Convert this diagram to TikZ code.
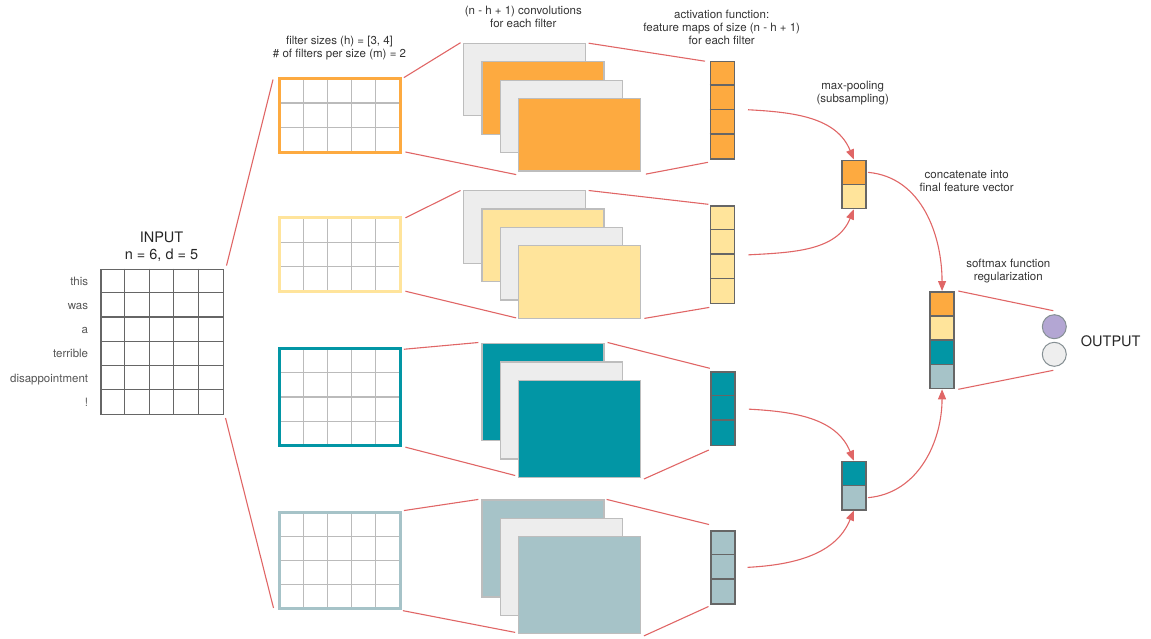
\documentclass[tikz,border=0pt]{standalone}
\usepackage{fontspec}
\setmainfont{TeX Gyre Heros}
\usetikzlibrary{arrows.meta,calc}

\definecolor{cOrange}{HTML}{FDAA40}
\definecolor{cYellow}{HTML}{FFE49B}
\definecolor{cTeal}{HTML}{0296A5}
\definecolor{cSlate}{HTML}{A6C3C8}
\definecolor{cSheet}{HTML}{EDEDED}
\definecolor{cSheetLine}{HTML}{BDBDBD}
\definecolor{cGrid}{HTML}{BBBBBB}
\definecolor{cDark}{HTML}{666666}
\definecolor{cRed}{HTML}{E06666}
\definecolor{cPurple}{HTML}{B3A6D3}
\definecolor{cCircle}{HTML}{EEEEEE}
\definecolor{cCircleLine}{HTML}{858F93}
\definecolor{cText}{HTML}{333333}
\definecolor{cWord}{HTML}{555555}

\begin{document}
\begin{tikzpicture}[x=1pt,y=-1pt,
  label/.style={font=\fontsize{11.5}{13}\selectfont, text=cText, align=center, inner sep=0},
  bigtext/.style={font=\fontsize{14.5}{17}\selectfont, text=black!85, align=center, inner sep=0},
  word/.style={font=\fontsize{11.5}{13}\selectfont, text=cWord, anchor=base east, inner sep=0},
  inbox/.style={draw=cDark, line width=1.2pt, fill=white, inner sep=0, anchor=north west,
                minimum width=122.5, minimum height=145.2},
  ingrid/.style={draw=cDark, line width=1.2pt},
  fbox/.style={inner sep=0, fill=white, minimum width=121},
  fgrid/.style={draw=cGrid, line width=1.2pt},
  sheet/.style={draw=cSheetLine, line width=1.2pt, inner sep=0, anchor=north west,
                minimum width=122},
  vec/.style={draw=cDark, line width=1.5pt, inner sep=0, anchor=north west, minimum width=24},
  vline/.style={draw=cDark, line width=1.5pt},
  link/.style={draw=cRed, line width=1.1pt},
  flow/.style={draw=cRed, line width=1.1pt, -{Triangle[length=10pt,width=8pt]}},
  unit/.style={circle, draw=cCircleLine, line width=1pt, minimum size=24, inner sep=0}
]
\useasboundingbox (0,0) rectangle (1151,638);

% ---------- input sentence matrix ----------
\node[inbox] (in) at (100.3,268.6) {};
\foreach \i in {1,...,4}
  \draw[ingrid] ($(in.north west)+(\i*24.5,0)$) -- ($(in.south west)+(\i*24.5,0)$);
\foreach \j in {1,...,5}
  \draw[ingrid] ($(in.north west)+(0,\j*24.2)$) -- ($(in.north east)+(0,\j*24.2)$);
\foreach \w [count=\k] in {this,was,a,terrible,disappointment,!}
  \node[word] (w\k) at ($(in.north west)+(-12,\k*24.2-12.1+4.5)$) {\w};
\node[bigtext] (intitle) at (161.5,246.5) {INPUT\\n = 6, d = 5};

% ---------- filters ----------
\foreach \nm/\cy/\rr/\h/\col in {f1/115.3/2/73/cOrange, f2/254.5/2/73/cYellow,
                                 f3/397.2/3/96.5/cTeal, f4/560.5/3/96.5/cSlate} {
  \node[fbox, minimum height=\h] (\nm) at (339.7,\cy) {};
  \pgfmathsetmacro\rh{\h/(\rr+1)}
  \foreach \i in {1,...,4}
    \draw[fgrid] ($(\nm.north west)+(\i*24.2,0)$) -- ($(\nm.south west)+(\i*24.2,0)$);
  \foreach \j in {1,...,\rr}
    \draw[fgrid] ($(\nm.north west)+(0,\j*\rh)$) -- ($(\nm.north east)+(0,\j*\rh)$);
  \draw[\col, line width=3pt] (\nm.north west) rectangle (\nm.south east);
}
\node[label] (flabel) at (339.5,48.5) {filter sizes (h) = [3, 4]\\\# of filters per size (m) = 2};

% ---------- convolution outputs ----------
\node[sheet, fill=cSheet,  minimum height=72.5] (s1a) at (463,42.7) {};
\node[sheet, fill=cOrange, minimum height=72.5] (s1b) at (481.4,61.1) {};
\node[sheet, fill=cSheet,  minimum height=72.5] (s1c) at (499.8,79.5) {};
\node[sheet, fill=cOrange, minimum height=72.5] (s1d) at (518.2,97.9) {};

\node[sheet, fill=cSheet,  minimum height=72.5] (s2a) at (463,190) {};
\node[sheet, fill=cYellow, minimum height=72.5] (s2b) at (481.4,208.4) {};
\node[sheet, fill=cSheet,  minimum height=72.5] (s2c) at (499.8,226.8) {};
\node[sheet, fill=cYellow, minimum height=72.5] (s2d) at (518.2,245.2) {};

\node[sheet, fill=cTeal,  minimum height=97] (s3a) at (481.4,343) {};
\node[sheet, fill=cSheet, minimum height=97] (s3b) at (499.8,361.4) {};
\node[sheet, fill=cTeal,  minimum height=97] (s3c) at (518.2,379.8) {};

\node[sheet, fill=cSlate, minimum height=97] (s4a) at (481.4,499.4) {};
\node[sheet, fill=cSheet, minimum height=97] (s4b) at (499.8,517.8) {};
\node[sheet, fill=cSlate, minimum height=97] (s4c) at (518.2,536.2) {};

\node[label] (clabel) at (523.3,17) {(n - h + 1) convolutions\\for each filter};

% ---------- feature maps ----------
\node[vec, fill=cOrange, minimum height=97.6] (v1) at (709.5,60.7) {};
\node[vec, fill=cYellow, minimum height=97.6] (v2) at (709.8,205.3) {};
\node[vec, fill=cTeal,   minimum height=73.2] (v3) at (710.3,371.3) {};
\node[vec, fill=cSlate,  minimum height=73.2] (v4) at (710,530) {};
\foreach \v/\n in {v1/3, v2/3, v3/2, v4/2}
  \foreach \k in {1,...,\n}
    \draw[vline] ($(\v.north west)+(0,\k*24.4)$) -- ($(\v.north east)+(0,\k*24.4)$);
\node[label] (alabel) at (721.7,27) {activation function:\\feature maps of size (n - h + 1)\\for each filter};

% ---------- pooled values ----------
\node[vec, fill=cOrange, minimum height=24.2] (p1a) at (841,159.5) {};
\node[vec, fill=cYellow, minimum height=24.2] (p1b) at (841,183.7) {};
\node[vec, minimum height=48.4] (p1) at (841,159.5) {};
\node[vec, fill=cTeal,  minimum height=24.2] (p2a) at (841,460.6) {};
\node[vec, fill=cSlate, minimum height=24.2] (p2b) at (841,484.8) {};
\node[vec, minimum height=48.4] (p2) at (841,460.6) {};
\node[label] (plabel) at (852.7,92.7) {max-pooling\\(subsampling)};

% ---------- final feature vector ----------
\node[vec, fill=cOrange, minimum height=24.2] (fva) at (929.3,291) {};
\node[vec, fill=cYellow, minimum height=24.2] (fvb) at (929.3,315.2) {};
\node[vec, fill=cTeal,   minimum height=24.2] (fvc) at (929.3,339.4) {};
\node[vec, fill=cSlate,  minimum height=24.2] (fvd) at (929.3,363.6) {};
\node[vec, minimum height=96.8] (fv) at (929.3,291) {};
\node[label] (cclabel) at (966.7,181.3) {concatenate into\\final feature vector};

% ---------- output units ----------
\node[unit, fill=cPurple] (c1) at (1054.3,326.7) {};
\node[unit, fill=cCircle] (c2) at (1054.3,354.3) {};
\node[bigtext] (outlabel) at (1110.7,341) {OUTPUT};
\node[label] (slabel) at (1008.3,271.3) {softmax function\\regularization};

% ---------- fan-out links ----------
\draw[link] ($(in.north east)+(2.5,-3)$) -- ($(f1.north west)+(-6,1)$);
\draw[link] ($(in.south east)+(1.5,3)$) -- ($(f4.south west)+(-5.5,-1)$);

\draw[link] ($(f1.north east)+(3.5,-1)$) -- ($(s1a.north west)+(-2.5,0)$);
\draw[link] ($(f1.south east)+(5,0)$) -- ($(s1d.south west)+(-2,3)$);
\draw[link] ($(s1a.north east)+(2.5,0.5)$) -- ($(v1.north west)+(-4.5,0.5)$);
\draw[link] ($(s1d.south east)+(4.5,2.5)$) -- ($(v1.south west)+(-1.5,2.5)$);

\draw[link] ($(f2.north east)+(5,0)$) -- ($(s2a.north west)+(-2.5,0.5)$);
\draw[link] ($(f2.south east)+(5,0)$) -- ($(s2d.south west)+(-2,-1)$);
\draw[link] ($(s2a.north east)+(2.5,0.5)$) -- ($(v2.north west)+(-1.5,-1)$);
\draw[link] ($(s2d.south east)+(3,-0.5)$) -- ($(v2.south west)+(-0.5,3)$);

\draw[link] ($(f3.north east)+(3.5,0.5)$) -- ($(s3a.north west)+(-3,-0.5)$);
\draw[link] ($(f3.south east)+(5,1.5)$) -- ($(s3c.south west)+(-3,-2.5)$);
\draw[link] ($(s3a.north east)+(3,-0.5)$) -- ($(v3.north west)+(-0.5,-3)$);
\draw[link] ($(s3c.south east)+(2.5,1)$) -- ($(v3.south west)+(-1.5,4)$);

\draw[link] ($(f4.north east)+(3.5,-1.5)$) -- ($(s4a.north west)+(-3,0)$);
\draw[link] ($(f4.south east)+(2.5,1.7)$) -- ($(s4c.south west)+(-3,-2)$);
\draw[link] ($(s4a.north east)+(2,0)$) -- ($(v4.north west)+(-1,-5.5)$);
\draw[link] ($(s4c.south east)+(2.5,1.5)$) -- ($(v4.south west)+(-1.5,1.8)$);

\draw[link] ($(fv.north east)+(3.5,0)$) -- ($(c1.north)+(-1,-3.5)$);
\draw[link] ($(fv.south east)+(3.5,0)$) -- ($(c2.south)+(-1,3.5)$);

% ---------- pooling and concatenation arrows ----------
\draw[flow] ($(v1.east)+(13,-0.5)$) to[out=-3, in=112] (p1.north);
\draw[flow] ($(v2.east)+(13,0)$) to[out=3, in=-112] (p1.south);
\draw[flow] ($(v3.east)+(13,0.5)$) to[out=-3, in=112] (p2.north);
\draw[flow] ($(v4.east)+(12,0)$) to[out=3, in=-112] (p2.south);
\draw[flow] ($(p1a.east)+(1.5,0)$) to[out=-5, in=90] (fv.north);
\draw[flow] ($(p2b.east)+(1.5,0)$) to[out=5, in=-90] (fv.south);
\end{tikzpicture}
\end{document}
